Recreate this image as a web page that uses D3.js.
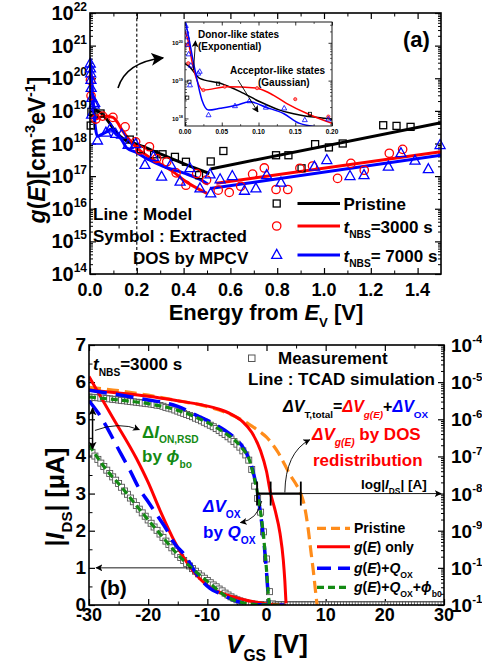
<!DOCTYPE html>
<html><head><meta charset="utf-8">
<script src="https://cdn.jsdelivr.net/npm/d3@7/dist/d3.min.js"></script>
<style>
html,body{margin:0;padding:0;background:#fff;}
svg{display:block;}
text{font-family:"Liberation Sans",Arial,Helvetica,sans-serif;font-weight:bold;}
</style></head><body>
<svg id="chart" width="482" height="667" xmlns="http://www.w3.org/2000/svg"></svg>
<script>
// ================= Panel (a) data : log10 g(E) [cm^-3 eV^-1] =================
const aXTicks = [0, 0.2, 0.4, 0.6, 0.8, 1.0, 1.2, 1.4];
const aYExps = [14, 15, 16, 17, 18, 19, 20, 21, 22];
const insetXTicks = [0, 0.05, 0.10, 0.15, 0.20];
const insetYExps = [18, 19, 20];

// model lines (two segments each)
const pristineLineE1 = [0, 0.006, 0.02, 0.048, 0.075, 0.102, 0.129, 0.156, 0.2, 0.3, 0.4, 0.51];
const pristineLineG1 = [19.45, 19.37, 19.06, 18.93, 18.71, 18.44, 18.22, 18.09, 17.98, 17.68, 17.38, 17.08];
const pristineLineE2 = [0.515, 1.5];
const pristineLineG2 = [17.22, 18.64];
const nbs3000LineE1 = [0, 0.004, 0.011, 0.025, 0.057, 0.098, 0.116, 0.138, 0.166, 0.2, 0.285, 0.356, 0.4, 0.5];
const nbs3000LineG1 = [20.3, 20.07, 19.37, 18.75, 18.84, 18.8, 18.66, 18.4, 18.13, 17.87, 17.44, 17.13, 16.88, 16.47];
const nbs3000LineE2 = [0.54, 1.5];
const nbs3000LineG2 = [16.78, 17.75];
const nbs7000LineE1 = [0, 0.003, 0.0136, 0.023, 0.032, 0.048, 0.07, 0.088, 0.111, 0.134, 0.156, 0.2, 0.242, 0.313, 0.399, 0.47, 0.505];
const nbs7000LineG1 = [20.6, 20.34, 19.28, 18.49, 18.22, 18.27, 18.35, 18.44, 18.29, 18.13, 17.87, 17.72, 17.54, 17.3, 17.1, 16.9, 16.75];
const nbs7000LineE2 = [0.513, 1.5];
const nbs7000LineG2 = [16.62, 17.64];

// extracted DOS symbols (MPCV)
const pristineSymE = [0.003, 0.006, 0.045, 0.17, 0.217, 0.274, 0.31, 0.363, 0.41, 0.466, 0.516, 0.57, 0.795, 0.848, 0.904, 0.962, 1.021, 1.08, 1.253, 1.31, 1.37];
const pristineSymG = [18.55, 18.97, 18.92, 18.12, 17.82, 17.67, 17.67, 17.59, 17.44, 17.03, 17.45, 17.77, 17.64, 17.64, 17.24, 17.98, 17.88, 18.0, 18.56, 18.54, 18.51];
const nbs3000SymE = [0.002, 0.0045, 0.025, 0.054, 0.098, 0.15, 0.195, 0.214, 0.254, 0.285, 0.328, 0.368, 0.41, 0.456, 0.498, 0.548, 0.595, 0.644, 0.695, 0.745, 0.795, 0.845, 0.897, 0.951, 1.058, 1.115, 1.172, 1.279, 1.336];
const nbs3000SymG = [19.94, 19.46, 18.75, 18.84, 18.8, 18.51, 18.05, 17.8, 17.9, 17.54, 17.44, 17.1, 16.72, 17.08, 16.88, 16.57, 16.5, 16.69, 17.06, 17.25, 16.59, 16.59, 17.24, 17.31, 16.93, 17.39, 17.18, 17.7, 17.82];
const nbs7000SymE = [0.001, 0.002, 0.003, 0.004, 0.005, 0.0068, 0.008, 0.018, 0.02, 0.032, 0.068, 0.0875, 0.11, 0.135, 0.163, 0.195, 0.235, 0.271, 0.306, 0.345, 0.385, 0.427, 0.47, 0.513, 0.516, 0.556, 0.608, 0.66, 0.709, 0.755, 0.816, 0.959, 1.012, 1.111, 1.171, 1.275, 1.329, 1.389, 1.446, 1.496];
const nbs7000SymG = [20.45, 20.3, 20.15, 19.95, 19.7, 18.88, 19.4, 19.19, 19.24, 18.09, 18.33, 18.46, 18.29, 18.27, 17.96, 17.98, 17.34, 17.59, 16.98, 17.34, 16.83, 17.24, 16.62, 17.05, 16.47, 16.9, 17.0, 16.55, 16.62, 17.03, 16.8, 17.29, 17.49, 17.0, 17.03, 17.29, 17.7, 17.47, 17.21, 17.95];

// ================= Panel (b) data =================
const bXTicks = [-30, -20, -10, 0, 10, 20, 30];
const bYTicks = [0, 1, 2, 3, 4, 5, 6, 7];
const bLogExps = [-4, -5, -6, -7, -8, -9, -10, -11];

// linear |I_DS| [uA]
const pristineLinV = [-30, -25, -20, -15, -11, -8, -5, -3, -1, 0, 1, 2, 3, 4, 5, 5.8, 6.5, 7, 7.5, 8, 8.3, 8.55];
const pristineLinI = [5.86, 5.77, 5.65, 5.5, 5.38, 5.25, 5.05, 4.87, 4.65, 4.52, 4.33, 4.1, 3.8, 3.5, 3.25, 3.0, 2.6, 2.1, 1.45, 0.8, 0.35, 0.0];
const gOnlyLinV = [-30, -25, -20, -15, -11, -8, -6, -4, -2.5, -1, 0, 0.7, 1.44, 2.28, 2.84, 3.1, 3.3];
const gOnlyLinI = [5.79, 5.71, 5.62, 5.5, 5.39, 5.27, 5.14, 4.93, 4.65, 4.15, 3.6, 3.0, 2.56, 1.93, 1.21, 0.65, 0.05];
const gQoxLinV = [-30, -25, -20, -18, -15, -12, -9, -7, -5.6, -4, -3, -2.2, -1.5, -1, -0.5, 0, 0.3, 0.5];
const gQoxLinI = [5.78, 5.66, 5.52, 5.47, 5.35, 5.12, 4.89, 4.7, 4.53, 4.25, 3.95, 3.55, 3.0, 2.45, 1.8, 0.9, 0.25, 0.0];
const gQoxPhiLinV = [-30, -25, -20, -15, -12, -9, -7, -5, -4, -3, -2.2, -1.5, -1, -0.5, 0, 0.3, 0.5];
const gQoxPhiLinI = [5.6, 5.52, 5.42, 5.24, 5.06, 4.83, 4.63, 4.38, 4.2, 3.95, 3.5, 3.0, 2.5, 1.85, 0.95, 0.3, 0.0];

// log10 |I_DS| [A]
const gOnlyLogV = [-30, -26, -22, -20, -18, -15.5, -12.6, -9.8, -6.7, -4.5, -2, 0, 2, 3.3];
const gOnlyLogI = [-4.85, -5.95, -7.05, -7.7, -8.45, -9.3, -10.05, -10.5, -10.73, -10.83, -10.92, -10.97, -10.99, -11];
const gQoxLogV = [-30, -28.4, -24.5, -23.1, -21.4, -20, -18.5, -17, -15.75, -13.6, -12.1, -9.55, -7.9, -5, -3, -1, 1, 3];
const gQoxLogI = [-5.5, -5.84, -6.96, -7.37, -7.9, -8.22, -8.58, -8.94, -9.3, -9.7, -10.1, -10.55, -10.69, -10.9, -10.97, -10.995, -11, -11];
const gQoxPhiLogV = [-30, -27, -24.8, -22.5, -20.1, -17.7, -15.2, -12.4, -9.5, -6.7, -4.5, -3, -1, 1, 3];
const gQoxPhiLogI = [-6.69, -7.37, -7.77, -8.22, -8.69, -9.14, -9.61, -10.04, -10.43, -10.78, -10.92, -10.97, -10.995, -11, -11];

// measurement, sampled every 0.5 V from -30 V to 30 V
const measV = d3.range(-30, 30.25, 0.5);
const measLin = [5.60, 5.59, 5.59, 5.58, 5.57, 5.57, 5.56, 5.55, 5.54, 5.53, 5.52, 5.51, 5.50, 5.49, 5.48, 5.47, 5.46, 5.45, 5.44, 5.43, 5.42,
  5.41, 5.40, 5.38, 5.37, 5.35, 5.32, 5.30, 5.28, 5.25, 5.22, 5.19, 5.16, 5.13, 5.10, 5.07, 5.03, 5.00, 4.96, 4.92, 4.88,
  4.84, 4.80, 4.75, 4.70, 4.64, 4.59, 4.53, 4.47, 4.40, 4.33, 4.25, 4.15, 4.04, 3.90, 3.65, 3.20, 2.87, 2.50, 1.97, 1.24,
  0.36, 0.03, 0, 0, 0, 0, 0, 0, 0, 0, 0, 0, 0, 0, 0, 0, 0, 0, 0, 0,
  0, 0, 0, 0, 0, 0, 0, 0, 0, 0, 0, 0, 0, 0, 0, 0, 0, 0, 0, 0,
  0, 0, 0, 0, 0, 0, 0, 0, 0, 0, 0, 0, 0, 0, 0, 0, 0, 0, 0, 0];
const measLog = [-6.80, -6.89, -6.99, -7.08, -7.18, -7.27, -7.37, -7.46, -7.55, -7.64, -7.73, -7.83, -7.93, -8.02, -8.12, -8.22, -8.32, -8.42, -8.52, -8.61, -8.71,
  -8.80, -8.90, -8.99, -9.09, -9.18, -9.28, -9.37, -9.46, -9.55, -9.64, -9.72, -9.80, -9.88, -9.95, -10.02, -10.09, -10.16, -10.22, -10.28, -10.34,
  -10.40, -10.46, -10.51, -10.57, -10.62, -10.68, -10.73, -10.78, -10.82, -10.86, -10.89, -10.92, -10.94, -10.96, -10.97, -10.98, -10.99, -10.99, -11, -11,
  -11, -11, -11, -11, -11, -11, -11, -11, -11, -11, -11, -11, -11, -11, -11, -11, -11, -11, -11, -11,
  -11, -11, -11, -11, -11, -11, -11, -11, -11, -11, -11, -11, -11, -11, -11, -11, -11, -11, -11, -11,
  -11, -11, -11, -11, -11, -11, -11, -11, -11, -11, -11, -11, -11, -11, -11, -11, -11, -11, -11, -11];

// ================= helpers =================
const svg = d3.select("#chart");
const defs = svg.append("defs");
function mkArrow(id, size) {
  defs.append("marker").attr("id", id).attr("viewBox", "0 0 10 10").attr("refX", 9).attr("refY", 5)
    .attr("markerWidth", size).attr("markerHeight", size).attr("markerUnits", "userSpaceOnUse")
    .attr("orient", "auto-start-reverse")
    .append("path").attr("d", "M0,0 L10,5 L0,10 L2.5,5 z").attr("fill", "#000");
}
mkArrow("arrBig", 13);
mkArrow("arrSm", 7);
mkArrow("arrMid", 8);

function rich(parent, x, y, parts, o) {
  const size = o.size;
  const t = parent.append("text").attr("x", x).attr("y", y)
    .attr("font-size", size).attr("fill", o.color || "#000")
    .attr("text-anchor", o.anchor || "start");
  if (o.family) t.attr("font-family", o.family);
  if (o.transform) t.attr("transform", o.transform);
  let off = 0;
  parts.forEach(p => {
    const rel = p.sup ? -(o.supShift || 0.42) * size : p.sub ? (o.subShift || 0.3) * size : 0;
    const s = t.append("tspan").attr("dy", (rel - off).toFixed(2)).text(p.t);
    off = rel;
    if (p.sup || p.sub) s.attr("font-size", ((o.small || 0.62) * size).toFixed(2));
    if (p.it) s.attr("font-style", "italic");
    if (p.c) s.attr("fill", p.c);
  });
  return t;
}
function tickSet(parent, axisFn, scale, tr, values, size, w) {
  const a = axisFn(scale).tickValues(values).tickSizeInner(size).tickSizeOuter(0).tickFormat("");
  const s = parent.append("g").attr("transform", tr).call(a);
  s.select(".domain").remove();
  s.selectAll("line").attr("stroke", "#000").attr("stroke-width", w || 1.2);
}
const zip = (a, b) => a.map((v, i) => [v, b[i]]);
function triPath(s) { const h = s * 0.9; return `M0,${-h * 0.62}L${s / 2},${h * 0.38}L${-s / 2},${h * 0.38}Z`; }

// ================= Panel (a) =================
const A = { l: 90, r: 441, t: 13, b: 274 };
const ax = d3.scaleLinear().domain([0, 1.5]).range([A.l, A.r]);
const ay = d3.scaleLog().domain([1e14, 1e22]).range([A.b, A.t]);
const ga = svg.append("g");

const aMajor = aYExps.map(e => 10 ** e);
const aMinor = [];
aYExps.slice(0, -1).forEach(e => { for (let k = 2; k < 10; k++) aMinor.push(k * 10 ** e); });
tickSet(ga, d3.axisLeft, ay, `translate(${A.l},0)`, aMajor, -6);
tickSet(ga, d3.axisLeft, ay, `translate(${A.l},0)`, aMinor, -3, 1);
tickSet(ga, d3.axisRight, ay, `translate(${A.r},0)`, aMajor, -6);
tickSet(ga, d3.axisRight, ay, `translate(${A.r},0)`, aMinor, -3, 1);
const aXMinor = d3.range(0.1, 1.5, 0.2);
tickSet(ga, d3.axisBottom, ax, `translate(0,${A.b})`, aXTicks, -6);
tickSet(ga, d3.axisBottom, ax, `translate(0,${A.b})`, aXMinor, -3.5, 1);
tickSet(ga, d3.axisTop, ax, `translate(0,${A.t})`, aXTicks, -6);
tickSet(ga, d3.axisTop, ax, `translate(0,${A.t})`, aXMinor, -3.5, 1);

// dashed line at 0.2 eV
ga.append("line").attr("x1", ax(0.2)).attr("x2", ax(0.2)).attr("y1", A.t).attr("y2", A.b)
  .attr("stroke", "#000").attr("stroke-width", 1.1).attr("stroke-dasharray", "3,2.2");

// tick labels
aYExps.forEach(e => rich(ga, 87, ay(10 ** e) + 7, [{ t: "10" }, { t: String(e), sup: true }], { size: 20, anchor: "end", small: 0.6, supShift: 0.45 }));
aXTicks.forEach(v => ga.append("text").attr("x", ax(v)).attr("y", 296).attr("text-anchor", "middle").attr("font-size", 18).text(d3.format(".1f")(v)));

// titles
rich(ga, 0, 0, [{ t: "g", it: true }, { t: "(" }, { t: "E", it: true }, { t: ")[cm" }, { t: "-3", sup: true }, { t: "eV" }, { t: "-1", sup: true }, { t: "]" }],
  { size: 23, anchor: "middle", transform: "translate(45,150) rotate(-90)", small: 0.62 });
rich(ga, 266, 320, [{ t: "Energy from " }, { t: "E", it: true }, { t: "V", sub: true }, { t: " [V]" }], { size: 22, anchor: "middle", small: 0.6 });

// model lines
const lineA = d3.line().x(d => ax(d[0])).y(d => ay(10 ** d[1])).curve(d3.curveMonotoneX);
const lineStyles = [
  { c: "#000", s1: zip(pristineLineE1, pristineLineG1), s2: zip(pristineLineE2, pristineLineG2) },
  { c: "#ff0000", s1: zip(nbs3000LineE1, nbs3000LineG1), s2: zip(nbs3000LineE2, nbs3000LineG2) },
  { c: "#0000ff", s1: zip(nbs7000LineE1, nbs7000LineG1), s2: zip(nbs7000LineE2, nbs7000LineG2) }
];
defs.append("clipPath").attr("id", "clipA").append("rect").attr("x", A.l).attr("y", A.t).attr("width", A.r - A.l).attr("height", A.b - A.t);
const gaLines = ga.append("g").attr("clip-path", "url(#clipA)");
lineStyles.forEach(L => {
  [L.s1, L.s2].forEach(s => gaLines.append("path").attr("d", lineA(s)).attr("fill", "none").attr("stroke", L.c).attr("stroke-width", 3));
});
// symbols
ga.append("g").selectAll("rect").data(zip(pristineSymE, pristineSymG)).join("rect")
  .attr("x", d => ax(d[0]) - 3.5).attr("y", d => ay(10 ** d[1]) - 3.5).attr("width", 7).attr("height", 7)
  .attr("fill", "none").attr("stroke", "#000").attr("stroke-width", 1.3);
ga.append("g").selectAll("circle").data(zip(nbs3000SymE, nbs3000SymG)).join("circle")
  .attr("cx", d => ax(d[0])).attr("cy", d => ay(10 ** d[1])).attr("r", 4.2)
  .attr("fill", "none").attr("stroke", "#ff0000").attr("stroke-width", 1.3);
ga.append("g").selectAll("path").data(zip(nbs7000SymE, nbs7000SymG)).join("path")
  .attr("transform", d => `translate(${ax(d[0])},${ay(10 ** d[1])})`).attr("d", triPath(10))
  .attr("fill", "none").attr("stroke", "#0000ff").attr("stroke-width", 1.3);

// frame
ga.append("rect").attr("x", A.l).attr("y", A.t).attr("width", A.r - A.l).attr("height", A.b - A.t)
  .attr("fill", "none").attr("stroke", "#000").attr("stroke-width", 1.6);

// big curved arrow
ga.append("path").attr("d", "M118,88 Q126,62 163,58").attr("fill", "none").attr("stroke", "#000").attr("stroke-width", 1.6).attr("marker-end", "url(#arrBig)");

// ----- inset -----
const I = { l: 185, r: 332, t: 22, b: 126 };
const ix = d3.scaleLinear().domain([0, 0.2]).range([I.l, I.r]);
const iy = d3.scaleLog().domain([10 ** 17.8, 10 ** 20.55]).range([I.b, I.t]);
const gi = svg.append("g");
gi.append("rect").attr("x", I.l).attr("y", I.t).attr("width", I.r - I.l).attr("height", I.b - I.t).attr("fill", "#fff");
defs.append("clipPath").attr("id", "clipI").append("rect").attr("x", I.l).attr("y", I.t).attr("width", I.r - I.l).attr("height", I.b - I.t);
const iMajor = insetYExps.map(e => 10 ** e);
const iMinor = [];
[17, 18, 19, 20].forEach(e => { for (let k = 2; k < 10; k++) { const v = k * 10 ** e; if (v > 10 ** 17.8 && v < 10 ** 20.55) iMinor.push(v); } });
tickSet(gi, d3.axisLeft, iy, `translate(${I.l},0)`, iMajor, -3.5, 0.8);
tickSet(gi, d3.axisLeft, iy, `translate(${I.l},0)`, iMinor, -2, 0.6);
tickSet(gi, d3.axisRight, iy, `translate(${I.r},0)`, iMajor, -3.5, 0.8);
tickSet(gi, d3.axisRight, iy, `translate(${I.r},0)`, iMinor, -2, 0.6);
const iXMinor = [0.025, 0.075, 0.125, 0.175];
tickSet(gi, d3.axisBottom, ix, `translate(0,${I.b})`, insetXTicks, -3.5, 0.8);
tickSet(gi, d3.axisBottom, ix, `translate(0,${I.b})`, iXMinor, -2, 0.6);
tickSet(gi, d3.axisTop, ix, `translate(0,${I.t})`, insetXTicks, -3.5, 0.8);
tickSet(gi, d3.axisTop, ix, `translate(0,${I.t})`, iXMinor, -2, 0.6);
insetXTicks.forEach(v => gi.append("text").attr("x", ix(v)).attr("y", 134).attr("text-anchor", "middle").attr("font-size", 6.5).text(d3.format(".2f")(v)));
insetYExps.forEach(e => rich(gi, 183, iy(10 ** e) + 2.5, [{ t: "10" }, { t: String(e), sup: true }], { size: 6, anchor: "end", small: 0.65 }));

const lineI = d3.line().x(d => ix(d[0])).y(d => iy(10 ** d[1])).curve(d3.curveMonotoneX);
const giC = gi.append("g").attr("clip-path", "url(#clipI)");
lineStyles.forEach(L => {
  [L.s1, L.s2].forEach(s => giC.append("path").attr("d", lineI(s)).attr("fill", "none").attr("stroke", L.c).attr("stroke-width", 1.5));
});
const inI = d => d[0] <= 0.2;
giC.append("g").selectAll("rect").data(zip(pristineSymE, pristineSymG).filter(inI)).join("rect")
  .attr("x", d => ix(d[0]) - 1.6).attr("y", d => iy(10 ** d[1]) - 1.6).attr("width", 3.2).attr("height", 3.2)
  .attr("fill", "none").attr("stroke", "#000").attr("stroke-width", 0.8);
giC.append("g").selectAll("circle").data(zip(nbs3000SymE, nbs3000SymG).filter(inI)).join("circle")
  .attr("cx", d => ix(d[0])).attr("cy", d => iy(10 ** d[1])).attr("r", 1.6)
  .attr("fill", "#ff8080").attr("stroke", "#ff0000").attr("stroke-width", 0.7);
giC.append("g").selectAll("path").data(zip(nbs7000SymE, nbs7000SymG).filter(inI)).join("path")
  .attr("transform", d => `translate(${ix(d[0])},${iy(10 ** d[1])})`).attr("d", triPath(5))
  .attr("fill", "none").attr("stroke", "#0000ff").attr("stroke-width", 0.8);
gi.append("rect").attr("x", I.l).attr("y", I.t).attr("width", I.r - I.l).attr("height", I.b - I.t)
  .attr("fill", "none").attr("stroke", "#000").attr("stroke-width", 0.9);
gi.append("text").attr("x", 198).attr("y", 38).attr("font-size", 10).text("Donor-like states");
gi.append("text").attr("x", 198).attr("y", 50).attr("font-size", 10).text("(Exponential)");
gi.append("text").attr("x", 230).attr("y", 74).attr("font-size", 10).text("Acceptor-like states");
gi.append("text").attr("x", 258).attr("y", 85.5).attr("font-size", 10).text("(Gaussian)");
gi.append("path").attr("d", "M193.5,70 L195.5,41").attr("stroke", "#000").attr("stroke-width", 0.9).attr("fill", "none").attr("marker-end", "url(#arrSm)");
gi.append("path").attr("d", "M238,80 L258,112").attr("stroke", "#000").attr("stroke-width", 0.9).attr("fill", "none").attr("marker-end", "url(#arrSm)");

// (a) label & annotations
ga.append("text").attr("x", 403).attr("y", 47).attr("font-size", 22).attr("font-family", '"Liberation Serif","Times New Roman",serif').text("(a)");
ga.append("text").attr("x", 93).attr("y", 220).attr("font-size", 17).text("Line : Model");
ga.append("text").attr("x", 93).attr("y", 242).attr("font-size", 17).text("Symbol : Extracted");
ga.append("text").attr("x", 133).attr("y", 264).attr("font-size", 17).text("DOS by MPCV");
// legend (a)
const legA = [
  { y: 203.5, c: "#000", sym: "sq", parts: [{ t: "Pristine" }] },
  { y: 226, c: "#ff0000", sym: "ci", parts: [{ t: "t", it: true }, { t: "NBS", sub: true }, { t: "=3000 s" }] },
  { y: 255, c: "#0000ff", sym: "tr", parts: [{ t: "t", it: true }, { t: "NBS", sub: true }, { t: "= 7000 s" }] }
];
legA.forEach(L => {
  if (L.sym === "sq") ga.append("rect").attr("x", 273.2).attr("y", L.y - 3.5).attr("width", 7).attr("height", 7).attr("fill", "none").attr("stroke", L.c).attr("stroke-width", 1.3);
  if (L.sym === "ci") ga.append("circle").attr("cx", 276.7).attr("cy", L.y).attr("r", 4.2).attr("fill", "none").attr("stroke", L.c).attr("stroke-width", 1.3);
  if (L.sym === "tr") ga.append("path").attr("transform", `translate(276.7,${L.y})`).attr("d", triPath(10)).attr("fill", "none").attr("stroke", L.c).attr("stroke-width", 1.3);
  ga.append("line").attr("x1", 297.5).attr("x2", 340).attr("y1", L.y).attr("y2", L.y).attr("stroke", L.c).attr("stroke-width", 3);
  rich(ga, 343.5, L.y + 6.5, L.parts, { size: 17, small: 0.6, subShift: 0.35 });
});

// ================= Panel (b) =================
const B = { l: 89, r: 444, t: 345, b: 605 };
const bx = d3.scaleLinear().domain([-30, 30]).range([B.l, B.r]);
const by = d3.scaleLinear().domain([0, 7]).range([B.b, B.t]);
const byLog = d3.scaleLog().domain([1e-11, 1e-4]).range([B.b, B.t]);
const gb = svg.append("g");

tickSet(gb, d3.axisLeft, by, `translate(${B.l},0)`, bYTicks, -6);
tickSet(gb, d3.axisLeft, by, `translate(${B.l},0)`, d3.range(0.5, 7, 1), -3.5, 1);
const bLogMajor = bLogExps.map(e => 10 ** e);
const bLogMinor = [];
bLogExps.slice(1).forEach(e => { for (let k = 2; k < 10; k++) bLogMinor.push(k * 10 ** e); });
tickSet(gb, d3.axisRight, byLog, `translate(${B.r},0)`, bLogMajor, -6);
tickSet(gb, d3.axisRight, byLog, `translate(${B.r},0)`, bLogMinor, -3, 1);
const bXMinor = [-25, -15, -5, 5, 15, 25];
tickSet(gb, d3.axisBottom, bx, `translate(0,${B.b})`, bXTicks, -6);
tickSet(gb, d3.axisBottom, bx, `translate(0,${B.b})`, bXMinor, -3.5, 1);
tickSet(gb, d3.axisTop, bx, `translate(0,${B.t})`, bXTicks, -6);
tickSet(gb, d3.axisTop, bx, `translate(0,${B.t})`, bXMinor, -3.5, 1);

bYTicks.forEach(v => gb.append("text").attr("x", 86).attr("y", by(v) + 6).attr("text-anchor", "end").attr("font-size", 19).text(v));
bXTicks.forEach(v => gb.append("text").attr("x", bx(v)).attr("y", 621).attr("text-anchor", "middle").attr("font-size", 18).text(v));
bLogExps.forEach(e => rich(gb, 451, byLog(10 ** e) + 7, [{ t: "10" }, { t: String(e), sup: true }], { size: 19, small: 0.6, supShift: 0.45 }));

rich(gb, 0, 0, [{ t: "|" }, { t: "I", it: true }, { t: "DS", sub: true }, { t: "| [\u03bcA]" }],
  { size: 25, anchor: "middle", transform: "translate(64,497) rotate(-90)", small: 0.6 });
rich(gb, 267, 653, [{ t: "V", it: true }, { t: "GS", sub: true }, { t: " [V]" }], { size: 26, anchor: "middle", small: 0.6 });

defs.append("clipPath").attr("id", "clipB").append("rect").attr("x", B.l).attr("y", B.t).attr("width", B.r - B.l).attr("height", B.b - B.t);
const gbC = gb.append("g").attr("clip-path", "url(#clipB)");

// measurement squares
const sq = (data) => gbC.append("g").selectAll("rect").data(data).join("rect")
  .attr("x", d => bx(d[0]) - 3).attr("y", d => d[2] - 3).attr("width", 6).attr("height", 6)
  .attr("fill", "#fff").attr("stroke", "#555").attr("stroke-width", 0.9);
sq(measV.map((v, i) => [v, 0, byLog(10 ** measLog[i])]));
sq(measV.map((v, i) => [v, 0, by(measLin[i])]));

const lineLin = d3.line().x(d => bx(d[0])).y(d => by(d[1])).curve(d3.curveMonotoneX);
const lineLog = d3.line().x(d => bx(d[0])).y(d => byLog(10 ** d[1])).curve(d3.curveMonotoneX);
const ORANGE = "#ff8c1a", RED = "#ff0000", BLUE = "#0000ff", GREEN = "#138a13";
const drawB = (d, gen, c, dash, w) => gbC.append("path").attr("d", gen(d)).attr("fill", "none").attr("stroke", c)
  .attr("stroke-width", w).attr("stroke-dasharray", dash || null);
drawB(zip(pristineLinV, pristineLinI), lineLin, ORANGE, "12,6", 3.2);
drawB(zip(gOnlyLinV, gOnlyLinI), lineLin, RED, null, 3);
drawB(zip(gOnlyLogV, gOnlyLogI), lineLog, RED, null, 3);
drawB(zip(gQoxLinV, gQoxLinI), lineLin, BLUE, "18,9", 3.5);
drawB(zip(gQoxLogV, gQoxLogI), lineLog, BLUE, "18,9", 3.5);
drawB(zip(gQoxPhiLinV, gQoxPhiLinI), lineLin, GREEN, "7,4", 3.2);
drawB(zip(gQoxPhiLogV, gQoxPhiLogI), lineLog, GREEN, "7,4", 3.2);

gb.append("rect").attr("x", B.l).attr("y", B.t).attr("width", B.r - B.l).attr("height", B.b - B.t)
  .attr("fill", "none").attr("stroke", "#000").attr("stroke-width", 1.6);

// annotations (b)
rich(gb, 93, 370, [{ t: "t", it: true }, { t: "NBS", sub: true }, { t: "=3000 s" }], { size: 17, small: 0.6, subShift: 0.35 });
gb.append("rect").attr("x", 248.5).attr("y", 355).attr("width", 6.5).attr("height", 6.5).attr("fill", "#fff").attr("stroke", "#555").attr("stroke-width", 1);
gb.append("text").attr("x", 278).attr("y", 364).attr("font-size", 17).text("Measurement");
gb.append("text").attr("x", 248).attr("y", 385).attr("font-size", 17).text("Line : TCAD simulation");
rich(gb, 283, 412, [{ t: "\u0394V", it: true }, { t: "T,total", sub: true }, { t: "=" }, { t: "\u0394V", it: true, c: RED }, { t: "g(E)", sub: true, it: true, c: RED },
  { t: "+" }, { t: "\u0394V", it: true, c: BLUE }, { t: "OX", sub: true, c: BLUE }], { size: 16, small: 0.62, subShift: 0.35 });
rich(gb, 312, 440, [{ t: "\u0394V", it: true }, { t: "g(E)", sub: true, it: true }, { t: " by DOS" }], { size: 17, color: RED, small: 0.6, subShift: 0.35 });
gb.append("text").attr("x", 313).attr("y", 466).attr("font-size", 17).attr("fill", RED).text("redistribution");
rich(gb, 361, 489, [{ t: "log|" }, { t: "I", it: true }, { t: "DS", sub: true }, { t: "| [A]" }], { size: 13.5, small: 0.62, subShift: 0.35 });
rich(gb, 203, 512, [{ t: "\u0394V", it: true }, { t: "OX", sub: true }], { size: 17, color: BLUE, small: 0.6, subShift: 0.35 });
rich(gb, 203, 538, [{ t: "by " }, { t: "Q", it: true }, { t: "OX", sub: true }], { size: 17, color: BLUE, small: 0.6, subShift: 0.35 });
rich(gb, 142, 438, [{ t: "\u0394" }, { t: "I", it: true }, { t: "ON,RSD", sub: true }], { size: 17, color: GREEN, small: 0.6, subShift: 0.32 });
rich(gb, 142, 462, [{ t: "by " }, { t: "\u03d5", it: true }, { t: "bo", sub: true }], { size: 17, color: GREEN, small: 0.6, subShift: 0.35 });
gb.append("text").attr("x", 100).attr("y", 595).attr("font-size", 21).attr("font-family", '"Liberation Serif","Times New Roman",serif').text("(b)");

// arrows & bracket in (b)
gb.append("line").attr("x1", bx(-29.4)).attr("x2", bx(-29.4)).attr("y1", by(5.3)).attr("y2", by(4.2))
  .attr("stroke", "#000").attr("stroke-width", 1.5).attr("marker-start", "url(#arrMid)").attr("marker-end", "url(#arrMid)");
gb.append("path").attr("d", `M${bx(-29)},${by(4.7)} Q${bx(-25)},${by(4.95)} ${bx(-21.5)},${by(4.72)}`)
  .attr("fill", "none").attr("stroke", "#000").attr("stroke-width", 0.9).attr("marker-end", "url(#arrSm)");
gb.append("line").attr("x1", bx(-12.7)).attr("x2", bx(-28.8)).attr("y1", by(1)).attr("y2", by(1))
  .attr("stroke", "#000").attr("stroke-width", 0.9).attr("marker-end", "url(#arrSm)");
gb.append("line").attr("x1", bx(5.8)).attr("x2", bx(29.5)).attr("y1", by(3)).attr("y2", by(3))
  .attr("stroke", "#000").attr("stroke-width", 0.9).attr("marker-end", "url(#arrSm)");
gb.append("line").attr("x1", bx(-1.6)).attr("x2", bx(5.8)).attr("y1", by(3)).attr("y2", by(3)).attr("stroke", "#000").attr("stroke-width", 2.2);
[-1.6, 0.7, 5.8].forEach(v => gb.append("line").attr("x1", bx(v)).attr("x2", bx(v)).attr("y1", by(3) - 12).attr("y2", by(3) + 12).attr("stroke", "#000").attr("stroke-width", 1.8));
gb.append("path").attr("d", `M${bx(3.1)},${by(3.03)} Q${bx(3.2)},${by(4.1)} ${bx(7.3)},${by(4.45)}`)
  .attr("fill", "none").attr("stroke", "#000").attr("stroke-width", 0.9).attr("marker-end", "url(#arrSm)");
gb.append("path").attr("d", `M${bx(-0.8)},${by(2.8)} Q${bx(-1.5)},${by(2.3)} ${bx(-4.4)},${by(2.22)}`)
  .attr("fill", "none").attr("stroke", "#000").attr("stroke-width", 0.9).attr("marker-end", "url(#arrSm)");

// legend (b)
const legB = [
  { y: 528.3, c: ORANGE, dash: "9,5", w: 3.2, parts: [{ t: "Pristine" }] },
  { y: 546.7, c: RED, dash: null, w: 3, parts: [{ t: "g", it: true }, { t: "(" }, { t: "E", it: true }, { t: ") only" }] },
  { y: 568.3, c: BLUE, dash: "14,7", w: 3.5, parts: [{ t: "g", it: true }, { t: "(" }, { t: "E", it: true }, { t: ")+" }, { t: "Q", it: true }, { t: "OX", sub: true }] },
  { y: 587.3, c: GREEN, dash: "7,4", w: 3.2, parts: [{ t: "g", it: true }, { t: "(" }, { t: "E", it: true }, { t: ")+" }, { t: "Q", it: true }, { t: "OX", sub: true }, { t: "+" }, { t: "\u03d5", it: true }, { t: "b0", sub: true }] }
];
legB.forEach(L => {
  gb.append("line").attr("x1", 317).attr("x2", 350).attr("y1", L.y).attr("y2", L.y).attr("stroke", L.c).attr("stroke-width", L.w).attr("stroke-dasharray", L.dash);
  rich(gb, 354, L.y + 5, L.parts, { size: 14, small: 0.62, subShift: 0.35 });
});
</script></body></html>
